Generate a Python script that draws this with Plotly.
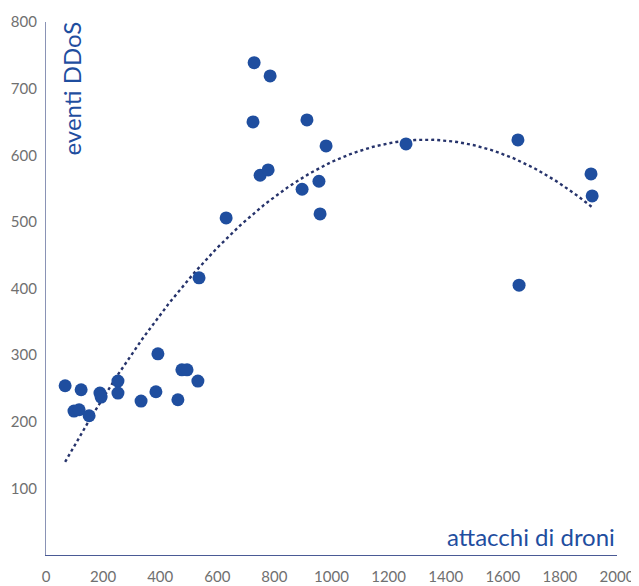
import numpy as np
import plotly.graph_objects as go

# data
attacchi_droni = [67, 123, 98, 116, 151, 189, 193, 252, 252, 333, 385, 392, 462, 476, 494, 532,
                  536, 631, 729, 785, 725, 750, 778, 914, 981, 897, 956, 960, 1261, 1653, 1657,
                  1909, 1913]
eventi_ddos = [254, 248, 216, 218, 209, 243, 237, 261, 243, 231, 245, 302, 233, 278, 278, 261,
               416, 506, 739, 719, 650, 570, 578, 653, 614, 549, 561, 512, 617, 623, 405,
               572, 539]
x_ticks = [0, 200, 400, 600, 800, 1000, 1200, 1400, 1600, 1800, 2000]
y_ticks = [100, 200, 300, 400, 500, 600, 700, 800]

x = np.array(attacchi_droni, dtype=float)
y = np.array(eventi_ddos, dtype=float)
coef = np.polyfit(x, y, 2)
xt = np.linspace(x.min(), x.max(), 200)
yt = np.polyval(coef, xt)

fig = go.Figure()
fig.add_trace(go.Scatter(x=xt, y=yt, mode="lines",
                         line=dict(color="#26336b", width=2.4, dash="dot"),
                         hoverinfo="skip", showlegend=False))
fig.add_trace(go.Scatter(x=x, y=y, mode="markers",
                         marker=dict(color="#1f4e9f", size=13, line=dict(width=0)),
                         showlegend=False))

tick_font = dict(family="Lato, Open Sans, sans-serif", size=15, color="#707070")
label_font = dict(family="Lato, Open Sans, sans-serif", size=24, color="#1f4e9f")
fig.update_layout(
    template="none",
    width=631, height=578,
    margin=dict(l=38, r=22, t=14, b=31),
    paper_bgcolor="white", plot_bgcolor="white",
    xaxis=dict(range=[0, 2000], tickvals=x_ticks, showgrid=False, zeroline=False,
               showline=True, linecolor="#4a5a95", linewidth=1.2, ticks="",
               tickfont=tick_font, ticklabelstandoff=8, automargin=False),
    yaxis=dict(range=[0, 800], tickvals=y_ticks, showgrid=False, zeroline=False,
               showline=True, linecolor="#8a93b5", linewidth=1.2, ticks="",
               tickfont=tick_font, ticklabelstandoff=5, automargin=False),
    annotations=[
        dict(text="eventi DDoS", xref="paper", yref="paper", x=0.045, y=1.004,
             xanchor="center", yanchor="top", textangle=-90, showarrow=False,
             font=label_font),
        dict(text="attacchi di droni", xref="paper", yref="paper", x=1.0, y=0.004,
             xanchor="right", yanchor="bottom", showarrow=False,
             font=label_font),
    ],
)
fig.write_html("out.html")
